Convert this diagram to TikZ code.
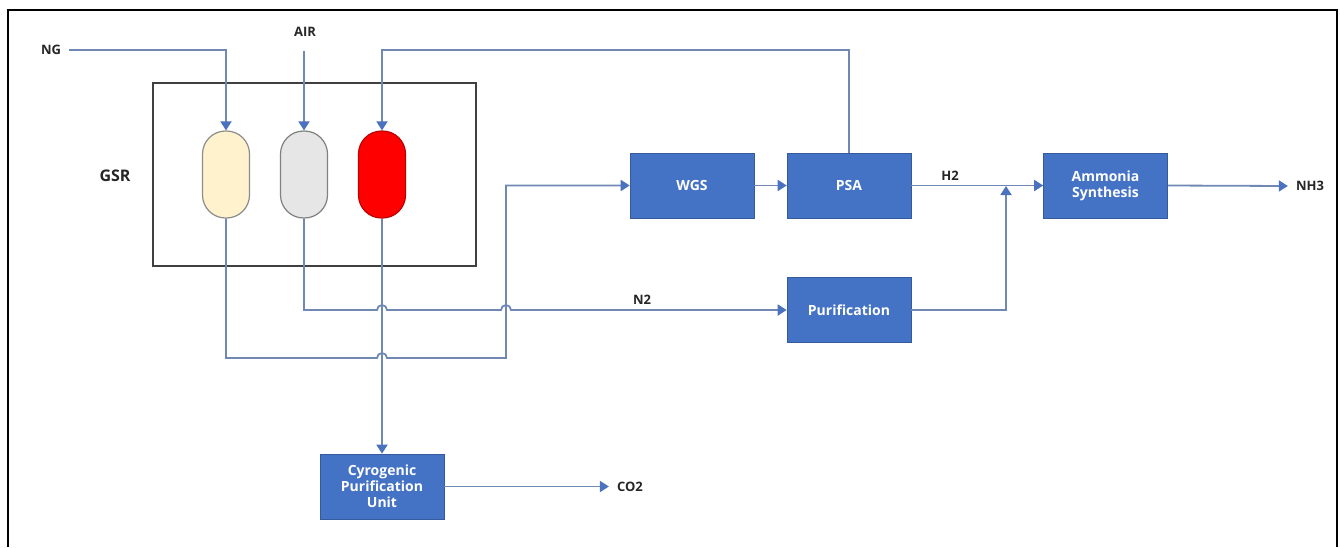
\documentclass[tikz,border=0pt]{standalone}
\usepackage{fontspec}
\setmainfont{Open Sans}
\usetikzlibrary{arrows.meta}
\definecolor{boxblue}{HTML}{4472C4}
\definecolor{lineblue}{HTML}{6F89B4}
\definecolor{tipblue}{HTML}{4A72BE}
\definecolor{labelgray}{HTML}{262626}
\definecolor{creamfill}{HTML}{FFF2CC}
\definecolor{grayfill}{HTML}{E7E6E6}
\tikzset{
  unitbox/.style={draw=boxblue!80!black, line width=0.6pt, fill=boxblue, text=white, font=\bfseries\fontsize{14}{16}\selectfont, minimum width=124pt, minimum height=65pt, align=center, inner sep=2pt},
  vessel/.style={draw=#1, line width=1.2pt, minimum width=47pt, minimum height=87pt, rounded corners=23pt, inner sep=0pt},
  lbl/.style={text=labelgray, font=\bfseries\fontsize{13}{15}\selectfont, inner sep=2pt},
  flow/.style={draw=lineblue, line width=1.8pt},
  flowa/.style={flow, -{Triangle[width=11pt,length=9pt,color=tipblue]}},
}
\begin{document}
\begin{tikzpicture}[x=1pt,y=-1pt]
\useasboundingbox (0,0) rectangle (1340,547);
% outer frame
\draw[black, line width=2pt] (8,547) -- (8,10) -- (1337,10) -- (1337,547);
% GSR enclosure
\node[draw=black!75, line width=1.5pt, minimum width=323pt, minimum height=183pt, inner sep=0pt] (gsr) at (314.5,174.5) {};
\node[lbl, font=\bfseries\fontsize{16}{18}\selectfont] (gsrlbl) at (115,176) {GSR};
% vessels
\node[vessel=black!45, fill=creamfill] (v1) at (226,174.5) {};
\node[vessel=black!50, fill=grayfill] (v2) at (304,174.5) {};
\node[vessel=red!75!black, fill=red] (v3) at (382,174.5) {};
% units
\node[unitbox] (wgs) at (692,185.5) {WGS};
\node[unitbox] (psa) at (849,185.5) {PSA};
\node[unitbox] (amm) at (1105.5,185.5) {Ammonia\\Synthesis};
\node[unitbox] (pur) at (849,310) {Purification};
\node[unitbox] (cpu) at (382,486.5) {Cyrogenic\\Purification\\Unit};
% labels
\node[lbl] (ng) at (51,50) {NG};
\node[lbl] (air) at (305,32) {AIR};
\node[lbl] (h2) at (950,176) {H2};
\node[lbl] (n2) at (642,300) {N2};
\node[lbl] (nh3) at (1310,186) {NH3};
\node[lbl] (co2) at (630,486.5) {CO2};
% helper coordinates
\coordinate (airin) at (304,51);
\coordinate (recyc) at (382,50);
\coordinate (jn) at (1006,186);
% connectors
\draw[flowa] (v3.south) -- (cpu.north);
\draw[flowa] ([xshift=6pt]ng.east) -| (v1.north);
\draw[flowa] (airin) -- (v2.north);
\draw[flowa] (psa.north) |- (recyc) -- (v3.north);
\draw[flowa] (v2.south) -- (304,310) -- (377,310) arc[start angle=180,end angle=0,radius=5pt] -- (501,310) arc[start angle=180,end angle=0,radius=5pt] -- (pur.west);
\draw[flowa] (v1.south) -- (226,358) -- (377,358) arc[start angle=180,end angle=0,radius=5pt] -- (506,358) |- (wgs.west);
\draw[flowa] (wgs.east) -- (psa.west);
\draw[flowa] (psa.east) -- (amm.west);
\draw[flowa] (pur.east) -| (jn);
\draw[flowa] (amm.east) -- ([xshift=-6pt]nh3.west);
\draw[flowa] (cpu.east) -- ([xshift=-6pt]co2.west);
\end{tikzpicture}
\end{document}
